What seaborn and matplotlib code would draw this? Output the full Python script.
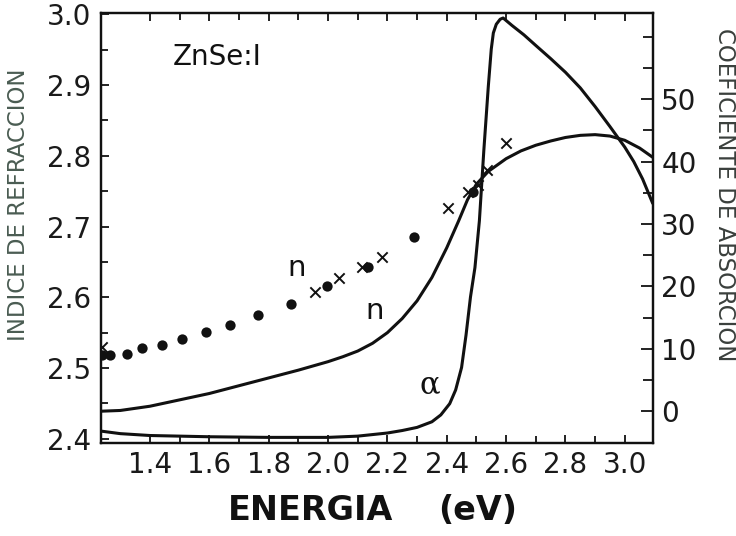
import matplotlib
matplotlib.use("Agg")
import matplotlib.pyplot as plt
import seaborn as sns
import numpy as np
import pandas as pd

# ---- data ----
# refractive index curve n(E) (solid, left axis)
n_curve_E = [1.238, 1.30, 1.40, 1.50, 1.60, 1.70, 1.80, 1.90, 2.00, 2.05,
             2.10, 2.15, 2.20, 2.25, 2.30, 2.35, 2.40, 2.44, 2.47, 2.50,
             2.54, 2.60, 2.65, 2.70, 2.75, 2.80, 2.85, 2.90, 2.95, 3.00,
             3.05, 3.094]
n_curve_n = [2.439, 2.440, 2.446, 2.455, 2.464, 2.475, 2.486, 2.497, 2.509, 2.516,
             2.524, 2.535, 2.550, 2.570, 2.595, 2.628, 2.670, 2.708, 2.738, 2.760,
             2.778, 2.796, 2.807, 2.815, 2.821, 2.826, 2.829, 2.830, 2.828, 2.822,
             2.811, 2.798]

# absorption coefficient curve alpha(E) (solid, right axis)
alpha_E = [1.236, 1.30, 1.40, 1.60, 1.80, 2.00, 2.10, 2.20, 2.25, 2.30,
           2.35, 2.38, 2.41, 2.43, 2.45, 2.465, 2.48, 2.495, 2.51, 2.525,
           2.54, 2.55, 2.557, 2.567, 2.58, 2.59, 2.62, 2.66, 2.70, 2.75,
           2.80, 2.85, 2.90, 2.95, 3.00, 3.03, 3.06, 3.094]
alpha_val = [-3.2, -3.6, -3.9, -4.1, -4.2, -4.2, -4.0, -3.5, -3.1, -2.6,
             -1.7, -0.6, 1.2, 3.4, 7.0, 12.2, 18.3, 23.0, 30.5, 41.8,
             52.0, 58.0, 60.6, 62.0, 62.8, 63.0, 61.8, 60.3, 58.6, 56.5,
             54.3, 51.8, 48.8, 45.6, 42.3, 40.0, 37.2, 33.3]

# measured n, filled dots
dots_E = [1.238, 1.265, 1.323, 1.373, 1.44, 1.508, 1.589, 1.669, 1.764, 1.875,
          1.996, 2.134, 2.289, 2.488]
dots_n = [2.518, 2.518, 2.520, 2.528, 2.533, 2.541, 2.551, 2.561, 2.575, 2.590,
          2.616, 2.643, 2.685, 2.749]

# measured n, crosses
cross_E = [1.238, 1.956, 2.037, 2.114, 2.181, 2.404, 2.471, 2.505, 2.535, 2.599]
cross_n = [2.530, 2.607, 2.627, 2.643, 2.657, 2.726, 2.749, 2.759, 2.780, 2.818]

x_major = [1.4, 1.6, 1.8, 2.0, 2.2, 2.4, 2.6, 2.8, 3.0]
x_minor = [1.5, 1.7, 1.9, 2.1, 2.3, 2.5, 2.7, 2.9]
x_labels = ["1.4", "1.6", "1.8", "2.0", "2.2", "2.4", "2.6", "2.8", "3.0"]
yl_major = [2.4, 2.5, 2.6, 2.7, 2.8, 2.9, 3.0]
yl_labels = ["2.4", "2.5", "2.6", "2.7", "2.8", "2.9", "3.0"]
yl_minor = [2.45, 2.55, 2.65, 2.75, 2.85, 2.95]
yr_major = [0, 10, 20, 30, 40, 50]
yr_labels = ["0", "10", "20", "30", "40", "50"]
yr_minor = [5, 15, 25, 35, 45, 55, 60]

# ---- plotting ----
sns.set_theme(style="ticks")
plt.rcParams["font.family"] = ["DejaVu Sans"]

fig = plt.figure(figsize=(7.36, 5.36), dpi=100)
fig.patch.set_facecolor("white")
ax = fig.add_axes([101/736, 93/536, 552/736, 430/536])
ax.set_facecolor("white")
ax2 = ax.twinx()

ink = "#111111"
lw = 2.2

df_n = pd.DataFrame({"E": n_curve_E, "n": n_curve_n})
sns.lineplot(data=df_n, x="E", y="n", ax=ax, color=ink, lw=lw, estimator=None)

df_dots = pd.DataFrame({"E": dots_E, "n": dots_n})
sns.scatterplot(data=df_dots, x="E", y="n", ax=ax, color=ink, s=55,
                marker="o", edgecolor=ink, linewidth=0, zorder=5)
df_cross = pd.DataFrame({"E": cross_E, "n": cross_n})
sns.scatterplot(data=df_cross, x="E", y="n", ax=ax, color=ink, s=55,
                marker="x", linewidth=1.4, zorder=5)

df_a = pd.DataFrame({"E": alpha_E, "a": alpha_val})
sns.lineplot(data=df_a, x="E", y="a", ax=ax2, color=ink, lw=lw, estimator=None)

ax.set_xlim(1.235, 3.095)
ax.set_ylim(2.394, 3.002)
ax2.set_ylim(-5.1, 63.8)

ax.set_xlabel("")
ax.set_ylabel("")
ax2.set_ylabel("")

ax.set_xticks(x_major)
ax.set_xticklabels(x_labels)
ax.set_xticks(x_minor, minor=True)
ax.set_yticks(yl_major)
ax.set_yticklabels(yl_labels)
ax.set_yticks(yl_minor, minor=True)
ax2.set_yticks(yr_major)
ax2.set_yticklabels(yr_labels)
ax2.set_yticks(yr_minor, minor=True)

for a in (ax, ax2):
    for sp in a.spines.values():
        sp.set_visible(True)
        sp.set_color(ink)
        sp.set_linewidth(1.6)

ax.tick_params(axis="x", which="both", direction="in", top=True, bottom=True,
               labelsize=20, pad=6, color=ink, labelcolor="#1a1a1a", width=1.3)
ax.tick_params(axis="x", which="major", length=6)
ax.tick_params(axis="x", which="minor", length=5)
ax.tick_params(axis="y", which="both", direction="in", left=True, right=False,
               labelsize=20, pad=7, color=ink, labelcolor="#1a1a1a", width=1.3)
ax.tick_params(axis="y", which="major", length=6)
ax.tick_params(axis="y", which="minor", length=5)
ax2.tick_params(axis="y", which="both", direction="in", right=True, left=False,
                labelsize=20, pad=6, color=ink, labelcolor="#1a1a1a", width=1.3)
ax2.tick_params(axis="y", which="major", length=9)
ax2.tick_params(axis="y", which="minor", length=7.5)

# annotations
ax.text(1.477, 2.9396, "ZnSe:I", fontsize=20, color=ink, ha="left", va="center")
ax.text(1.895, 2.641, "n", fontsize=21, color=ink, ha="center", va="center")
ax.text(2.158, 2.581, "n", fontsize=21, color=ink, ha="center", va="center")
ax.text(2.343, 2.476, "α", fontsize=22, color=ink, ha="center", va="center",
        family=["DejaVu Serif"])

# axis labels
fig.text(311/736, 1 - 511/536, "ENERGIA", fontsize=24, fontweight="bold",
         color=ink, ha="center", va="center")
fig.text(478/736, 1 - 511/536, "(eV)", fontsize=24, fontweight="bold",
         color=ink, ha="center", va="center")
lab_col = "#4a5c52"
fig.text(19/736, 1 - 205/536, "INDICE DE REFRACCION", fontsize=16.5,
         color=lab_col, rotation=90, ha="center", va="center")
fig.text(725/736, 1 - 195/536, "COEFICIENTE DE ABSORCION", fontsize=16.5,
         color="#3a3f3c", rotation=-90, ha="center", va="center")

fig.savefig("out.png", dpi=100, facecolor="white")
